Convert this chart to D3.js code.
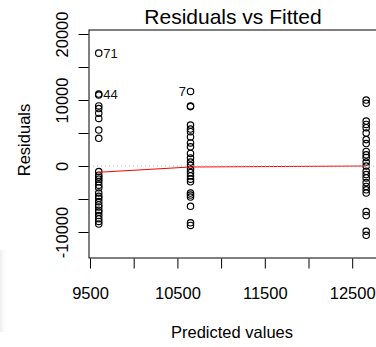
<!DOCTYPE html>
<html>
<head>
<meta charset="utf-8">
<script src="https://cdn.jsdelivr.net/npm/d3@7"></script>
<style>
  html, body { margin: 0; padding: 0; background: #fff; }
  svg { display: block; font-family: "Liberation Sans", Arial, sans-serif; }
</style>
</head>
<body>
<svg id="chart" width="376" height="347"></svg>
<script>
// ---- data ----
const fittedLevels = [9600, 10650, 12660];
const residG1 = [17100, 10900, 10750, 9100, 8700, 8000, 7200, 5450, 4200,
  -850, -1400, -1700, -2000, -2400, -2900, -3300, -4100, -4600, -4900, -5400,
  -5900, -6200, -6700, -7000, -7500, -8000, -8400, -8800];
const residG2 = [11300, 9100, 9000, 6200, 5600, 5200, 4400, 3500, 2900, 1900,
  1200, 600, 100, -500, -1000, -1500, -2000, -2400, -4100, -4400, -4700,
  -6100, -8600, -9000];
const residG3 = [10000, 9500, 6800, 6300, 5800, 5000, 4000, 3400, 2200, 1700,
  1300, 600, 0, -800, -1300, -1800, -2500, -3100, -3600, -4100, -6900, -7500,
  -9900, -10500];
const outlierLabels = ["71", "44", "7"];
const outlierFitted = [9600, 9600, 10650];
const outlierResid = [17100, 10900, 11300];
const outlierSide = ["right", "right", "left"];
const smoothX = [9600, 10650, 12660];
const smoothY = [-950, -150, 0];
const xTicks = [9500, 10000, 10500, 11000, 11500, 12000, 12500];
const xTickLabels = ["9500", "", "10500", "", "11500", "", "12500"];
const yTicks = [-10000, -5000, 0, 5000, 10000, 15000, 20000];
const yTickLabels = ["-10000", "", "0", "", "10000", "", "20000"];
const titleText = "Residuals vs Fitted";
const xTitle = "Predicted values";
const yTitle = "Residuals";

// ---- layout ----
const svg = d3.select("#chart");
const box = { left: 89, top: 30, right: 378, bottom: 258 };

const x = d3.scaleLinear().domain([9500, 12500]).range([90, 352.2]);
const y = d3.scaleLinear().domain([0, 20000]).range([166, 34]);

// faint smudge in the lower-left corner
const defs = svg.append("defs");
const grad = defs.append("linearGradient").attr("id", "smudge")
  .attr("x1", "0").attr("x2", "1").attr("y1", "0").attr("y2", "0");
grad.append("stop").attr("offset", "0").attr("stop-color", "#efecec");
grad.append("stop").attr("offset", "1").attr("stop-color", "#ffffff").attr("stop-opacity", 0);
svg.append("rect").attr("x", 0).attr("y", 250).attr("width", 8).attr("height", 82)
  .attr("fill", "url(#smudge)");

// points
const points = [];
[residG1, residG2, residG3].forEach((arr, gi) => {
  arr.forEach(r => points.push({ f: fittedLevels[gi], r }));
});
svg.append("g").selectAll("circle").data(points).join("circle")
  .attr("cx", d => x(d.f))
  .attr("cy", d => y(d.r))
  .attr("r", 3.2)
  .attr("fill", "none")
  .attr("stroke", "#000")
  .attr("stroke-width", 1.15);

// smoother
const line = d3.line().x((d, i) => x(smoothX[i])).y((d, i) => y(smoothY[i]));
svg.append("path").datum(smoothX)
  .attr("d", line)
  .attr("fill", "none")
  .attr("stroke", "#ff0000")
  .attr("stroke-width", 1);

// zero reference line
svg.append("line")
  .attr("x1", box.left).attr("x2", box.right)
  .attr("y1", y(0)).attr("y2", y(0))
  .attr("stroke", "#bebebe")
  .attr("stroke-width", 1)
  .attr("stroke-dasharray", "1,3");

// outlier labels
svg.append("g").selectAll("text").data(outlierLabels).join("text")
  .attr("x", (d, i) => x(outlierFitted[i]) + (outlierSide[i] === "right" ? 4.5 : -4.5))
  .attr("y", (d, i) => y(outlierResid[i]))
  .attr("dy", "0.36em")
  .attr("text-anchor", (d, i) => outlierSide[i] === "right" ? "start" : "end")
  .attr("font-size", 13)
  .attr("fill", "#111")
  .text(d => d);

// box
svg.append("rect")
  .attr("x", box.left).attr("y", box.top)
  .attr("width", box.right - box.left).attr("height", box.bottom - box.top)
  .attr("fill", "none").attr("stroke", "#000").attr("stroke-width", 1);

// x axis
const xAxis = d3.axisBottom(x).tickValues(xTicks).tickSize(10).tickPadding(19)
  .tickFormat((d, i) => xTickLabels[i]);
const gx = svg.append("g").attr("transform", `translate(0,${box.bottom + 0.5})`).call(xAxis);
gx.select(".domain").remove();
gx.selectAll(".tick line").attr("stroke", "#000");
gx.selectAll(".tick text").attr("font-size", 16.5).attr("fill", "#000")
  .attr("font-family", "Liberation Sans, Arial, sans-serif");

// y axis
const yAxis = d3.axisLeft(y).tickValues(yTicks).tickSize(10)
  .tickFormat((d, i) => yTickLabels[i]);
const gy = svg.append("g").attr("transform", `translate(${box.left - 0.5},0)`).call(yAxis);
gy.select(".domain").remove();
gy.selectAll(".tick line").attr("stroke", "#000");
gy.selectAll(".tick text")
  .attr("font-size", 16.5).attr("fill", "#000")
  .attr("font-family", "Liberation Sans, Arial, sans-serif")
  .attr("text-anchor", "middle")
  .attr("x", null).attr("dy", null)
  .attr("transform", "translate(-21,0) rotate(-90)");

// titles
svg.append("text").attr("x", 233).attr("y", 24).attr("text-anchor", "middle")
  .attr("font-size", 21).attr("fill", "#000").text(titleText);
svg.append("text").attr("x", 232).attr("y", 338).attr("text-anchor", "middle")
  .attr("font-size", 16.5).attr("fill", "#000").text(xTitle);
svg.append("text").attr("transform", "translate(30,140) rotate(-90)")
  .attr("text-anchor", "middle")
  .attr("font-size", 16.5).attr("fill", "#000").text(yTitle);
</script>
</body>
</html>
